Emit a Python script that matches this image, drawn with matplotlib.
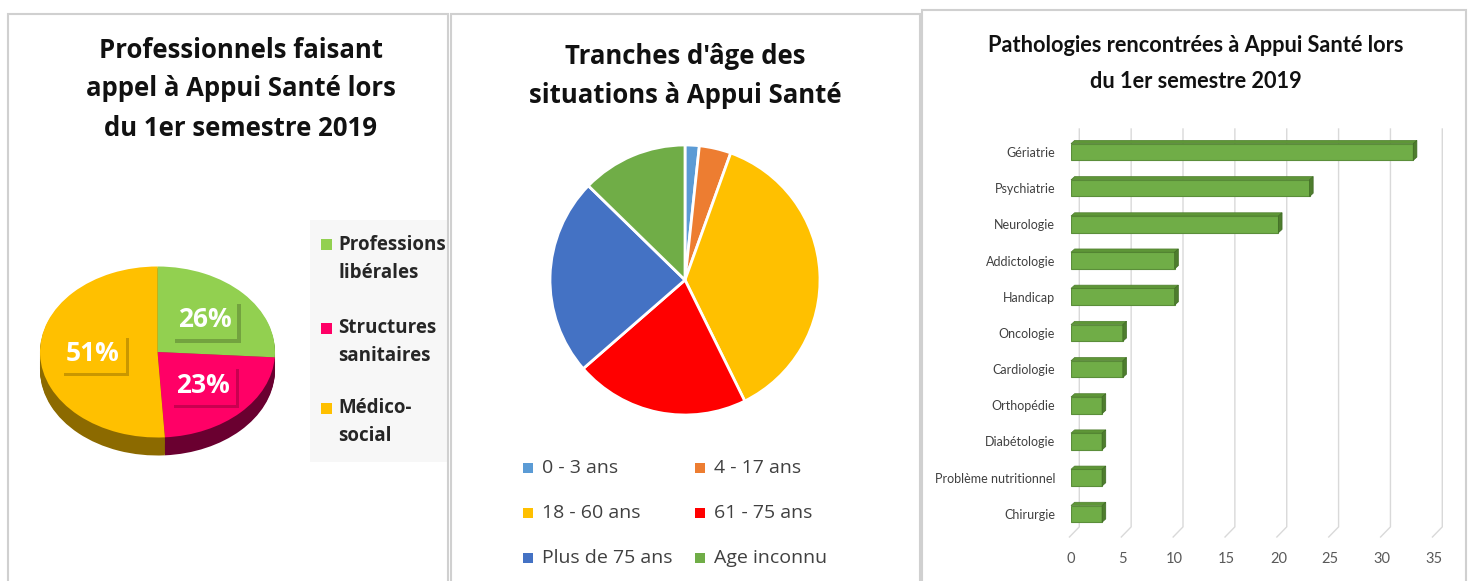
import numpy as np
import matplotlib
matplotlib.use('Agg')
import matplotlib.pyplot as plt
from matplotlib.patches import Rectangle, Polygon
import matplotlib.patheffects as pe

# ---------------- data ----------------
prof_labels = ['Professions\nlibérales', 'Structures\nsanitaires', 'Médico-\nsocial']
prof_values = [26, 23, 51]
prof_colors = ['#92D050', '#FF0066', '#FFC000']
prof_side_colors = ['#5E8C2C', '#6A0030', '#8C6A00']

age_labels = ['0 - 3 ans', '4 - 17 ans', '18 - 60 ans', '61 - 75 ans',
              'Plus de 75 ans', 'Age inconnu']
age_values = [1.7, 3.8, 37.2, 20.9, 23.7, 12.7]
age_colors = ['#5B9BD5', '#ED7D31', '#FFC000', '#FF0000', '#4472C4', '#70AD47']

patho_labels = ['Gériatrie', 'Psychiatrie', 'Neurologie', 'Addictologie', 'Handicap',
                'Oncologie', 'Cardiologie', 'Orthopédie', 'Diabétologie',
                'Problème nutritionnel', 'Chirurgie']
patho_values = [33, 23, 20, 10, 10, 5, 5, 3, 3, 3, 3]
patho_ticks = [0, 5, 10, 15, 20, 25, 30, 35]

title1 = ['Professionnels faisant', 'appel à Appui Santé lors', 'du 1er semestre 2019']
title2 = ["Tranches d'âge des", 'situations à Appui Santé']
title3 = ['Pathologies rencontrées à Appui Santé lors', 'du 1er semestre 2019']

# ---------------- figure ----------------
W, H = 1472, 581
fig = plt.figure(figsize=(W / 100, H / 100), dpi=100)
fig.patch.set_facecolor('white')


def R(x0, y0, x1, y1):
    return [x0 / W, 1 - y1 / H, (x1 - x0) / W, (y1 - y0) / H]


def F(x, y):
    return (x / W, 1 - y / H)


BOLD = ['Open Sans', 'DejaVu Sans']
REG = ['Open Sans', 'DejaVu Sans']
NARROW = ['Liberation Sans Narrow', 'Lato', 'DejaVu Sans']

# panel frames
for (x0, y0, x1) in [(8, 14, 448), (451, 14, 920), (922, 10, 1466)]:
    fig.add_artist(Rectangle(F(x0, 600), (x1 - x0) / W, (600 - y0) / H,
                             transform=fig.transFigure, fill=False,
                             edgecolor='#D0D0D0', linewidth=1.5))

# ---------------- panel 1 ----------------
for txt, y in zip(title1, [50, 89, 128]):
    fig.text(*F(241, y), txt, ha='center', va='center', fontsize=18.5,
             fontweight='bold', family=BOLD, color='#111111')

ax1 = fig.add_axes(R(25, 240, 295, 480))
cx, cy, rx, ry = 157.5, 352.0, 117.5, 85.5
depth = 18 / ry
for k in np.linspace(depth, 0, 16, endpoint=False):
    ax1.pie(prof_values, colors=prof_side_colors, startangle=90, counterclock=False,
            center=(0, -k), wedgeprops=dict(linewidth=0))
wedges, texts, autotexts = ax1.pie(
    prof_values, colors=prof_colors, startangle=90, counterclock=False,
    autopct='%1.0f%%', pctdistance=0.55, wedgeprops=dict(linewidth=0),
    textprops=dict(color='white', fontsize=19, fontweight='bold', family=BOLD))
for t, c in zip(autotexts, prof_colors):
    t.set_bbox(dict(boxstyle='square,pad=0.22', facecolor=c, edgecolor='none'))
    t.get_bbox_patch().set_path_effects([pe.SimplePatchShadow(offset=(2.5, -2.5), alpha=0.3),
                                         pe.Normal()])
ax1.set_aspect('auto')
ax1.set_xlim((25 - cx) / rx, (295 - cx) / rx)
ax1.set_ylim((cy - 480) / ry, (cy - 240) / ry)
ax1.axis('off')

# legend 1
fig.add_artist(Rectangle(F(310, 462), 138 / W, 242 / H, transform=fig.transFigure,
                         facecolor='#F7F7F7', edgecolor='none', zorder=0))
for lab, col, y in zip(prof_labels, prof_colors, [245, 328, 408]):
    fig.add_artist(Rectangle(F(321, y + 5.5), 11 / W, 11 / H, transform=fig.transFigure,
                             facecolor=col, edgecolor='none'))
    for j, line in enumerate(lab.split('\n')):
        fig.text(*F(338, y + 28 * j), line, ha='left', va='center', fontsize=13.5,
                 fontweight='bold', family=BOLD, color='#262626')

# ---------------- panel 2 ----------------
for txt, y in zip(title2, [57, 95]):
    fig.text(*F(685, y), txt, ha='center', va='center', fontsize=18.5,
             fontweight='bold', family=BOLD, color='#111111')

ax2 = fig.add_axes(R(685 - 140, 280 - 140, 685 + 140, 280 + 140))
ax2.pie(age_values, colors=age_colors, startangle=90, counterclock=False,
        wedgeprops=dict(edgecolor='white', linewidth=2))
ax2.set_xlim(-140 / 135, 140 / 135)
ax2.set_ylim(-140 / 135, 140 / 135)
ax2.axis('off')

for i, (lab, col) in enumerate(zip(age_labels, age_colors)):
    r, c = divmod(i, 2)
    y = [468, 513, 558][r]
    xs = [523, 695][c]
    fig.add_artist(Rectangle(F(xs, y + 5), 10 / W, 10 / H, transform=fig.transFigure,
                             facecolor=col, edgecolor='none'))
    fig.text(*F(xs + 19, y), lab, ha='left', va='center', fontsize=14,
             family=REG, color='#404040')

# ---------------- panel 3 ----------------
for txt, y in zip(title3, [46, 82]):
    fig.text(*F(1196, y), txt, ha='center', va='center', fontsize=15.7,
             fontweight='bold', family=NARROW, color='#111111')

ax3 = fig.add_axes(R(1071, 129, 1434, 537))
n = len(patho_labels)
ypos = np.arange(n)
bh = 0.46
ylo, yhi = 10.64, -0.635
ax3.set_xlim(0, 35)
ax3.set_ylim(ylo, yhi)
for t in patho_ticks:
    ax3.plot([t - 0.15, t + 0.8, t + 0.8], [ylo, 10.36, yhi], color='#D9D9D9',
             lw=1, zorder=0, clip_on=False)
ax3.barh(ypos, patho_values, height=bh, color='#70AD47', edgecolor='#5B8E3A',
         linewidth=0.8, zorder=3)
dx, dy = 0.35, 0.09
for y, v in zip(ypos, patho_values):
    top = y - bh / 2
    ax3.add_patch(Polygon([(0, top), (dx, top - dy), (v + dx, top - dy), (v, top)],
                          closed=True, facecolor='#5E9637', edgecolor='#4E7D2E',
                          lw=0.5, zorder=3, clip_on=False))
    ax3.add_patch(Polygon([(v, top), (v + dx, top - dy), (v + dx, top + bh - dy), (v, top + bh)],
                          closed=True, facecolor='#4E7D2E', edgecolor='#3F6B24',
                          lw=0.5, zorder=3, clip_on=False))
ax3.set_xticks(patho_ticks)
ax3.set_yticks(ypos)
ax3.set_yticklabels(patho_labels)
ax3.tick_params(axis='both', length=0)
ax3.tick_params(axis='x', pad=11, labelsize=10.5, labelcolor='#595959')
ax3.tick_params(axis='y', pad=11.5, labelsize=9, labelcolor='#404040')
for lbl in ax3.get_xticklabels() + ax3.get_yticklabels():
    lbl.set_family(NARROW)
for s in ax3.spines.values():
    s.set_visible(False)
ax3.set_facecolor('none')

fig.savefig('out.png', dpi=100, facecolor='white')
